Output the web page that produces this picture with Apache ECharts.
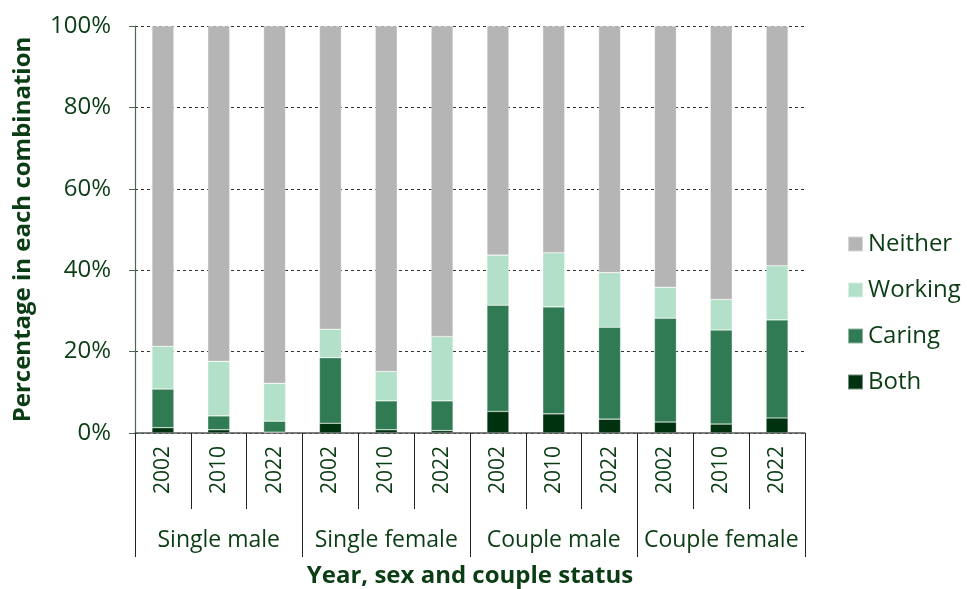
<!DOCTYPE html>
<html>
<head>
<meta charset="utf-8">
<script src="https://cdn.jsdelivr.net/npm/echarts@6/dist/echarts.min.js"></script>
<style>
  html, body { margin: 0; padding: 0; background: #fff; }
  #chart { width: 967px; height: 589px; }
</style>
</head>
<body>
<div id="chart"></div>
<script>
// years within each group, and the groups themselves
var years = ['2002', '2010', '2022', '2002', '2010', '2022', '2002', '2010', '2022', '2002', '2010', '2022'];
var groups = ['Single male', 'Single female', 'Couple male', 'Couple female'];

// percentages
var both    = [1.3, 0.8, 0.2, 2.4, 0.8, 0.6, 5.3, 4.7, 3.4, 2.7, 2.2, 3.7];
var caring  = [9.5, 3.4, 2.7, 16.1, 7.1, 7.3, 26.1, 26.3, 22.6, 25.5, 23.1, 24.1];
var working = [10.5, 13.4, 9.3, 7.0, 7.2, 15.8, 12.3, 13.3, 13.4, 7.6, 7.5, 13.3];
var neither = [78.7, 82.4, 87.8, 74.5, 84.9, 76.3, 56.3, 55.7, 60.6, 64.2, 67.2, 58.9];

var textCol = '#0b3d14';
var font = 'Open Sans';

function bar(name, data, color) {
    return {
        name: name,
        type: 'bar',
        stack: 'all',
        barWidth: 22,
        data: data,
        itemStyle: { color: color, borderColor: 'rgba(255,255,255,0.45)', borderWidth: 0.6 }
    };
}

var option = {
    animation: false,
    textStyle: { fontFamily: font, color: textCol },
    grid: { left: 135, right: 162, top: 26, bottom: 156, containLabel: false, outerBoundsMode: 'none' },
    legend: {
        orient: 'vertical',
        left: 842,
        top: 227,
        itemGap: 22,
        itemWidth: 15,
        itemHeight: 15,
        icon: 'rect',
        textStyle: { fontSize: 24, color: textCol, fontFamily: font },
        data: ['Neither', 'Working', 'Caring', 'Both']
    },
    xAxis: [
        {
            type: 'category',
            data: years,
            axisLine: { lineStyle: { color: '#555', width: 1.5 } },
            axisTick: { show: true, interval: 0, length: 76, lineStyle: { color: '#222' } },
            axisLabel: {
                interval: 0,
                rotate: 90,
                fontSize: 21,
                color: textCol,
                fontFamily: font,
                margin: 13
            }
        },
        {
            type: 'category',
            data: groups,
            position: 'bottom',
            axisLine: { show: false },
            axisTick: { show: true, interval: 0, length: 124, lineStyle: { color: '#222' } },
            axisLabel: { interval: 0, fontSize: 23, color: textCol, fontFamily: font, margin: 96 },
            name: 'Year, sex and couple status',
            nameLocation: 'middle',
            nameGap: 131,
            nameTextStyle: { fontSize: 24, fontWeight: 'bold', color: textCol, fontFamily: font }
        }
    ],
    yAxis: {
        type: 'value',
        min: 0,
        max: 100,
        interval: 20,
        name: 'Percentage in each combination',
        nameLocation: 'middle',
        nameGap: 100,
        nameTextStyle: { fontSize: 24, fontWeight: 'bold', color: textCol, fontFamily: font },
        axisLine: { show: true, lineStyle: { color: '#4a6b50', width: 1.2 } },
        axisTick: { show: true, length: 6, lineStyle: { color: '#4a6b50' } },
        axisLabel: { formatter: '{value}%', fontSize: 24, color: textCol, fontFamily: font, margin: 24 },
        splitLine: { lineStyle: { color: '#333', type: [3, 3], width: 1 } }
    },
    series: [
        bar('Both', both, '#00320f'),
        bar('Caring', caring, '#307b54'),
        bar('Working', working, '#b2e0c8'),
        bar('Neither', neither, '#b5b5b5')
    ]
};

var myChart = echarts.init(document.getElementById('chart'));
myChart.setOption(option);
</script>
</body>
</html>
